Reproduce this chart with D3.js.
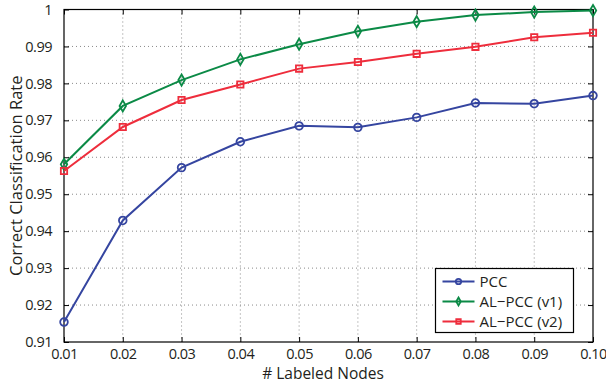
<!DOCTYPE html>
<html>
<head>
<meta charset="utf-8">
<script src="https://cdn.jsdelivr.net/npm/d3@7"></script>
<style>
  body { margin: 0; background: #fff; }
  svg text { font-family: "Open Sans", sans-serif; fill: #231f20; }
</style>
</head>
<body>
<div id="chart"></div>
<script>
// values
const labeledFractions = [0.01, 0.02, 0.03, 0.04, 0.05, 0.06, 0.07, 0.08, 0.09, 0.10];
const pcc     = [0.9154, 0.9429, 0.9572, 0.9642, 0.9685, 0.9681, 0.9708, 0.9747, 0.9745, 0.9767];
const alPccV1 = [0.9581, 0.9739, 0.9809, 0.9865, 0.9906, 0.9941, 0.9967, 0.9985, 0.9993, 0.9997];
const alPccV2 = [0.9563, 0.9682, 0.9755, 0.9797, 0.9840, 0.9858, 0.9880, 0.9899, 0.9925, 0.9937];
const yTicks = [0.91, 0.92, 0.93, 0.94, 0.95, 0.96, 0.97, 0.98, 0.99, 1];

const series = [
  { name: 'PCC', values: pcc, color: '#3545a0', marker: 'circle' },
  { name: 'AL\u2212PCC (v1)', values: alPccV1, color: '#0b8a46', marker: 'diamond' },
  { name: 'AL\u2212PCC (v2)', values: alPccV2, color: '#ee2d3c', marker: 'square' }
];

const width = 606, height = 387;
const margin = { top: 9.5, right: 13, bottom: 45, left: 64 };
const iw = width - margin.left - margin.right;
const ih = height - margin.top - margin.bottom;

const svg = d3.select('#chart').append('svg')
  .attr('width', width).attr('height', height);
const g = svg.append('g').attr('transform', `translate(${margin.left},${margin.top})`);

const x = d3.scaleLinear().domain([0.01, 0.10]).range([0, iw]);
const y = d3.scaleLinear().domain([0.91, 1]).range([ih, 0]);

// dotted grid
g.append('g').selectAll('line').data(labeledFractions.slice(1, -1)).enter().append('line')
  .attr('x1', d => x(d)).attr('x2', d => x(d)).attr('y1', 0).attr('y2', ih)
  .attr('stroke', '#8a8a8a').attr('stroke-width', 1).attr('stroke-dasharray', '1,3');
g.append('g').selectAll('line').data(yTicks.slice(1, -1)).enter().append('line')
  .attr('y1', d => y(d)).attr('y2', d => y(d)).attr('x1', 0).attr('x2', iw)
  .attr('stroke', '#8a8a8a').attr('stroke-width', 1).attr('stroke-dasharray', '1,3');

// axes with inward ticks on all four sides
const fmtX = d3.format('.2f');
const fmtY = d => (d === 1 ? '1' : d3.format('.2f')(d));
const axisStyle = sel => {
  sel.select('.domain').remove();
  sel.selectAll('.tick line').attr('stroke', '#000');
  sel.selectAll('.tick text').style('font-size', '14.5px')
    .style('letter-spacing', '-0.5px').attr('fill', '#231f20');
};
g.append('g').attr('transform', `translate(0,${ih})`)
  .call(d3.axisBottom(x).tickValues(labeledFractions).tickFormat(fmtX).tickSizeInner(-5).tickPadding(7))
  .call(axisStyle);
g.append('g')
  .call(d3.axisTop(x).tickValues(labeledFractions).tickFormat('').tickSizeInner(-5))
  .call(axisStyle);
g.append('g')
  .call(d3.axisLeft(y).tickValues(yTicks).tickFormat(fmtY).tickSizeInner(-5).tickPadding(12))
  .call(axisStyle);
g.append('g').attr('transform', `translate(${iw},0)`)
  .call(d3.axisRight(y).tickValues(yTicks).tickFormat('').tickSizeInner(-5))
  .call(axisStyle);

g.append('rect').attr('width', iw).attr('height', ih)
  .attr('fill', 'none').attr('stroke', '#000').attr('stroke-width', 1.2);

// markers
const symbolType = { circle: d3.symbolCircle, diamond: d3.symbolDiamond, square: d3.symbolSquare };
const symbolSize = { circle: 46, diamond: 36, square: 40 };
function drawMarker(sel, s, scale) {
  sel.append('path')
    .attr('d', d3.symbol().type(symbolType[s.marker]).size(symbolSize[s.marker] * scale)())
    .attr('fill', 'none').attr('stroke', s.color).attr('stroke-width', 1.8);
}

const line = d3.line().x((d, i) => x(labeledFractions[i])).y(d => y(d));

series.forEach(s => {
  g.append('path').datum(s.values)
    .attr('d', line).attr('fill', 'none')
    .attr('stroke', s.color).attr('stroke-width', 2);
  g.append('g').selectAll('g').data(s.values).enter().append('g')
    .attr('transform', (d, i) => `translate(${x(labeledFractions[i])},${y(d)})`)
    .each(function () { drawMarker(d3.select(this), s, 1); });
});

// axis titles
svg.append('text')
  .attr('x', 323).attr('y', 379)
  .attr('text-anchor', 'middle').style('font-size', '15.5px')
  .text('# Labeled Nodes');
svg.append('text')
  .attr('transform', `translate(22,${margin.top + ih / 2}) rotate(-90)`)
  .attr('text-anchor', 'middle').style('font-size', '16.5px')
  .text('Correct Classification Rate');

// legend
const lg = svg.append('g').attr('transform', 'translate(435.5,268.5)');
lg.append('rect').attr('width', 138).attr('height', 64)
  .attr('fill', '#fff').attr('stroke', '#000').attr('stroke-width', 1.2);
series.forEach((s, i) => {
  const row = lg.append('g').attr('transform', `translate(0,${13 + i * 20})`);
  row.append('line').attr('x1', 7).attr('x2', 39)
    .attr('stroke', s.color).attr('stroke-width', 2);
  const m = row.append('g').attr('transform', 'translate(23,0)');
  drawMarker(m, s, 0.5);
  row.append('text').attr('x', 44).attr('y', 5.5)
    .style('font-size', '15px').text(s.name);
});
</script>
</body>
</html>
